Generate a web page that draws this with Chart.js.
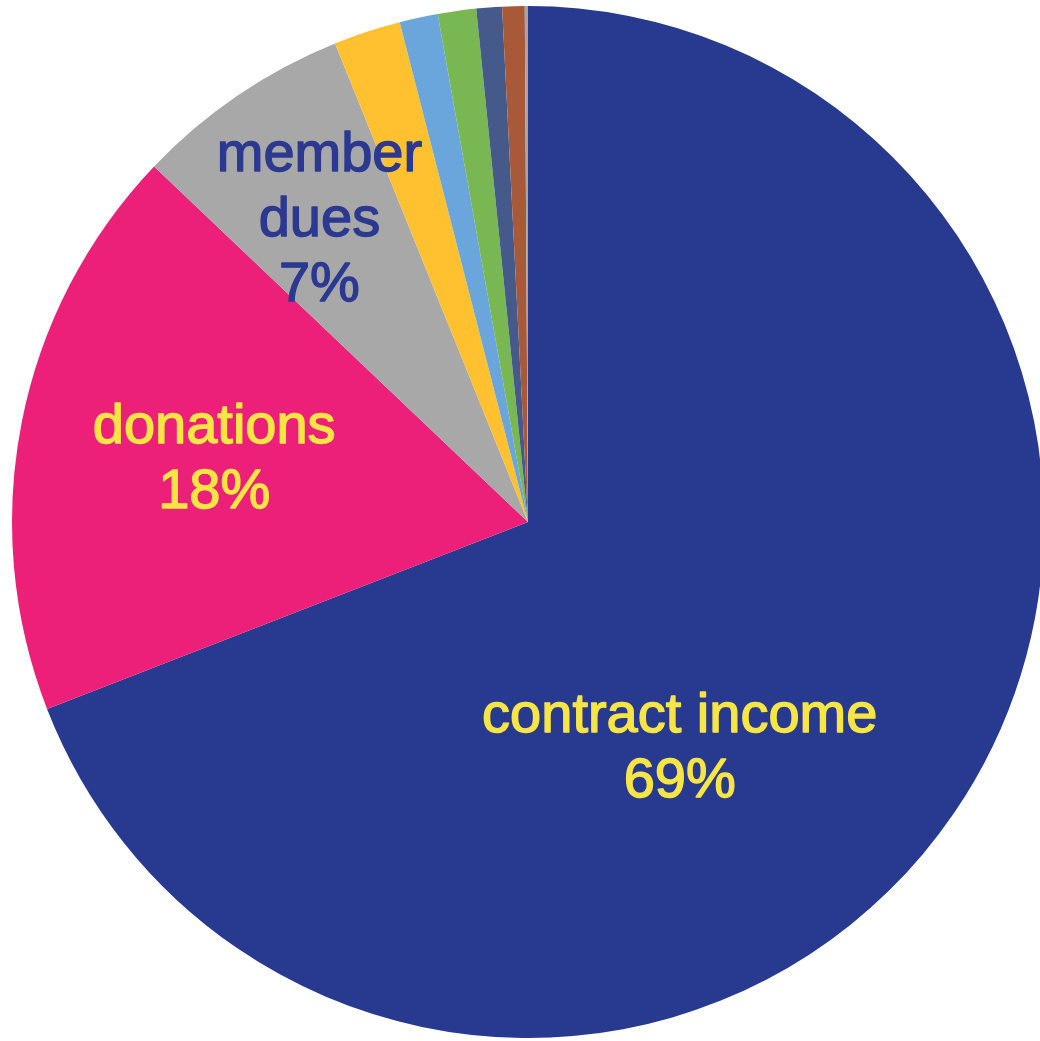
<!DOCTYPE html>
<html>
<head>
<meta charset="utf-8">
<script src="https://cdn.jsdelivr.net/npm/chart.js@4"></script>
<style>
html,body{margin:0;padding:0;background:#fff;overflow:hidden;}
#wrap{width:1044px;height:1041px;}
</style>
</head>
<body>
<div id="wrap"><canvas id="c" width="1044" height="1041"></canvas></div>
<script>
const categories = ["contract income","donations","member dues","other 1","other 2","other 3","other 4","other 5","other 6"];
const values = [69.1, 18.0, 6.8, 2.1, 1.2, 1.2, 0.8, 0.7, 0.1];
const sliceColors = ["#283A8F","#EC1F79","#A8A8A8","#FFC12F","#6AA6DC","#79B752","#45598A","#A8593A","#A5A5A5"];
const labelLines = [["contract income","69%"],["donations","18%"],["member","dues","7%"],null,null,null,null,null,null];
const labelColors = ["#F7E544","#F7E544","#2B3990"];
// polar placement: angle clockwise from top (deg), distance as fraction of radius
const labelPlace = [{a:146.3,d:0.53},{a:281.2,d:0.62},{a:325.3,d:0.71}];

const labelPlugin = {
  id:'sliceLabels',
  afterDatasetsDraw(chart){
    const ctx = chart.ctx;
    const meta = chart.getDatasetMeta(0);
    meta.data.forEach((arc,i)=>{
      const lines = labelLines[i];
      if(!lines) return;
      const p = labelPlace[i];
      const ang = p.a*Math.PI/180;
      const cx = arc.x + Math.sin(ang)*arc.outerRadius*p.d;
      const cy = arc.y - Math.cos(ang)*arc.outerRadius*p.d;
      ctx.save();
      ctx.font = '56px "Liberation Sans", Arial, sans-serif';
      ctx.fillStyle = labelColors[i];
      ctx.strokeStyle = labelColors[i];
      ctx.lineWidth = 1.4;
      ctx.lineJoin = 'round';
      ctx.textAlign='center';
      ctx.textBaseline='middle';
      const lh = 65;
      const start = cy - (lines.length-1)*lh/2;
      lines.forEach((t,k)=>{ctx.fillText(t,cx,start+k*lh);ctx.strokeText(t,cx,start+k*lh);});
      ctx.restore();
    });
  }
};

new Chart(document.getElementById('c'),{
  type:'pie',
  data:{labels:categories,datasets:[{data:values,backgroundColor:sliceColors,borderWidth:0}]},
  options:{
    responsive:false,
    animation:false,
    layout:{padding:{left:12,right:0,top:6,bottom:3}},
    plugins:{legend:{display:false},tooltip:{enabled:false}}
  },
  plugins:[labelPlugin]
});
</script>
</body>
</html>
